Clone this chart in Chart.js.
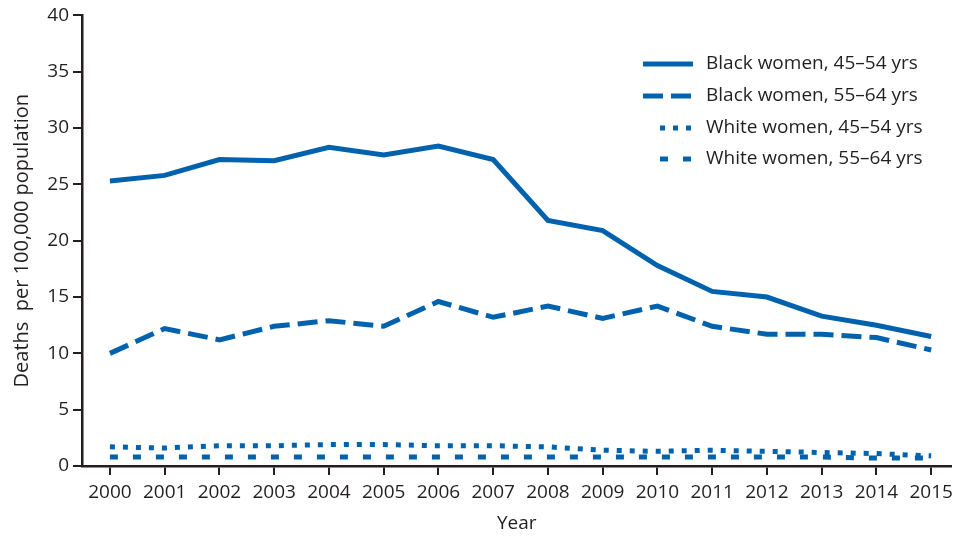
<!DOCTYPE html>
<html>
<head>
<meta charset="utf-8">
<script src="https://cdn.jsdelivr.net/npm/chart.js@4.4.1/dist/chart.umd.min.js"></script>
<style>
html,body{margin:0;padding:0;background:#fff;}
#wrap{width:959px;height:537px;position:relative;}
</style>
</head>
<body>
<div id="wrap"><canvas id="c"></canvas></div>
<script>
const years = [2000,2001,2002,2003,2004,2005,2006,2007,2008,2009,2010,2011,2012,2013,2014,2015];
const yTicks = [0,5,10,15,20,25,30,35,40];
const seriesNames = ["Black women, 45\u201354 yrs","Black women, 55\u201364 yrs","White women, 45\u201354 yrs","White women, 55\u201364 yrs"];
const black4554 = [25.3,25.8,27.2,27.1,28.3,27.6,28.4,27.2,21.8,20.9,17.8,15.5,15.0,13.3,12.5,11.5];
const black5564 = [10.0,12.2,11.2,12.4,12.9,12.4,14.6,13.2,14.2,13.1,14.2,12.4,11.7,11.7,11.4,10.3];
const white4554 = [1.7,1.6,1.8,1.8,1.9,1.9,1.8,1.8,1.7,1.4,1.3,1.4,1.3,1.2,1.1,0.9];
const white5564 = [0.8,0.8,0.8,0.8,0.8,0.8,0.8,0.8,0.8,0.8,0.8,0.8,0.8,0.8,0.7,0.7];

const BLUE = '#0062ad';
const INK = '#231f20';
const FONT = "'Open Sans', sans-serif";
const dashes = [[], [20,8], [5,8], [8,15]];
const legendStarts = [643, 643, 660, 660];

function pts(arr){ return years.map((y,i)=>({x:y, y:arr[i]})); }
const allSeries = [black4554, black5564, white4554, white5564];

const legendPlugin = {
  id: 'customLegend',
  afterDraw(chart){
    const ctx = chart.ctx;
    const rows = [64, 96, 128, 159];
    ctx.save();
    chart.data.datasets.forEach((ds,i)=>{
      ctx.beginPath();
      ctx.strokeStyle = BLUE;
      ctx.lineWidth = 5;
      ctx.setLineDash(ds.borderDash || []);
      ctx.moveTo(legendStarts[i], rows[i]);
      ctx.lineTo(693, rows[i]);
      ctx.stroke();
      ctx.setLineDash([]);
      ctx.fillStyle = INK;
      ctx.font = "19px " + FONT;
      ctx.textBaseline = 'middle';
      ctx.textAlign = 'left';
      ctx.fillText(ds.label, 706, rows[i]);
    });
    ctx.restore();
  }
};

new Chart(document.getElementById('c'), {
  type: 'line',
  data: {
    datasets: allSeries.map((arr,i)=>({
      label: seriesNames[i],
      data: pts(arr),
      borderColor: BLUE,
      backgroundColor: BLUE,
      borderWidth: 5,
      borderDash: dashes[i],
      borderCapStyle: 'butt',
      borderJoinStyle: 'miter',
      pointRadius: 0,
      tension: 0,
      fill: false
    }))
  },
  options: {
    responsive: true,
    maintainAspectRatio: false,
    animation: false,
    layout: { padding: { top: 14, right: 4, left: 0, bottom: 0 } },
    plugins: { legend: { display: false }, tooltip: { enabled: false } },
    scales: {
      x: {
        type: 'linear',
        min: 1999.49,
        max: 2015.37,
        afterBuildTicks(scale){ scale.ticks = years.map(v=>({value:v})); },
        afterFit(scale){ scale.height = 71; },
        grid: { drawOnChartArea: false, drawTicks: true, tickLength: 9, color: INK, lineWidth: 2 },
        border: { display: true, color: INK, width: 2.5 },
        ticks: { color: INK, font: { family: FONT, size: 19 }, padding: 6, maxRotation: 0, autoSkip: false, callback: v => String(v) },
        title: { display: true, text: 'Year', color: INK, font: { family: FONT, size: 19 }, padding: { top: 0, bottom: 2 } }
      },
      y: {
        min: 0,
        max: 40,
        afterBuildTicks(scale){ scale.ticks = yTicks.map(v=>({value:v})); },
        afterFit(scale){ scale.width = 82; },
        grid: { drawOnChartArea: false, drawTicks: true, tickLength: 9, color: INK, lineWidth: 2 },
        border: { display: true, color: INK, width: 2.5 },
        ticks: { color: INK, font: { family: FONT, size: 19 }, padding: 4 },
        title: { display: true, text: 'Deaths  per 100,000 population', color: INK, font: { family: FONT, size: 20 }, padding: { top: 10, bottom: 0 } }
      }
    }
  },
  plugins: [legendPlugin]
});
</script>
</body>
</html>
